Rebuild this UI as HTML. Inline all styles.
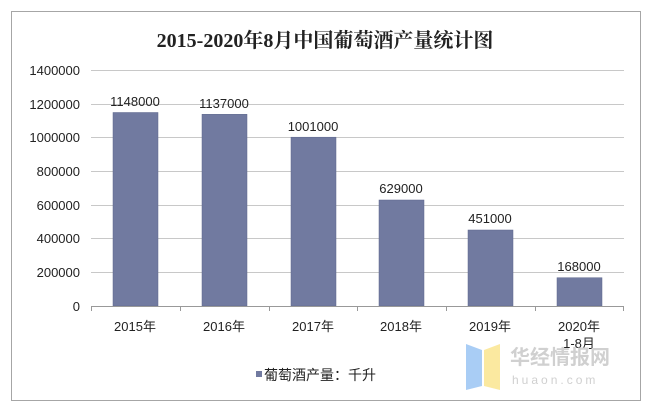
<!DOCTYPE html>
<html><head><meta charset="utf-8"><style>
body{margin:0;background:#fff;}
</style></head><body>
<svg width="650" height="411" xmlns="http://www.w3.org/2000/svg" font-family="'Liberation Sans','Noto Sans CJK SC',sans-serif">
<rect x="0" y="0" width="650" height="411" fill="#fff"/>
<rect x="11.5" y="11.5" width="629" height="389" fill="#fff" stroke="#a6a6a6"/>
<text x="325" y="47" text-anchor="middle" font-size="20" font-weight="bold" font-family="'Liberation Serif','Noto Serif CJK SC',serif" fill="#222">2015-2020年8月中国葡萄酒产量统计图</text>
<g stroke="#c8c8c8" stroke-width="1">
<line x1="91" x2="624" y1="70.5" y2="70.5"/>
<line x1="91" x2="624" y1="104.5" y2="104.5"/>
<line x1="91" x2="624" y1="137.5" y2="137.5"/>
<line x1="91" x2="624" y1="171.5" y2="171.5"/>
<line x1="91" x2="624" y1="205.5" y2="205.5"/>
<line x1="91" x2="624" y1="238.5" y2="238.5"/>
<line x1="91" x2="624" y1="272.5" y2="272.5"/>
</g>
<g font-size="13" fill="#222" text-anchor="end">
<text x="80" y="75">1400000</text>
<text x="80" y="109">1200000</text>
<text x="80" y="142">1000000</text>
<text x="80" y="176">800000</text>
<text x="80" y="210">600000</text>
<text x="80" y="243">400000</text>
<text x="80" y="277">200000</text>
<text x="80" y="311">0</text>
</g>
<g fill="#717aa0" stroke="#5d668c" stroke-width="0.5">
<rect x="113" y="112.5" width="45" height="193.5"/>
<rect x="202" y="114.3" width="45" height="191.7"/>
<rect x="291" y="137.2" width="45" height="168.8"/>
<rect x="379" y="200" width="45" height="106"/>
<rect x="468" y="230" width="45" height="76"/>
<rect x="557" y="277.7" width="45" height="28.3"/>
</g>
<g stroke="#999" stroke-width="1">
<line x1="91" x2="624" y1="306.5" y2="306.5"/>
<line x1="91.5" x2="91.5" y1="306" y2="311"/>
<line x1="180.5" x2="180.5" y1="306" y2="311"/>
<line x1="269.5" x2="269.5" y1="306" y2="311"/>
<line x1="357.5" x2="357.5" y1="306" y2="311"/>
<line x1="446.5" x2="446.5" y1="306" y2="311"/>
<line x1="535.5" x2="535.5" y1="306" y2="311"/>
<line x1="623.5" x2="623.5" y1="306" y2="311"/>
</g>
<g font-size="13" fill="#222" text-anchor="middle">
<text x="135" y="106">1148000</text>
<text x="224" y="108">1137000</text>
<text x="313" y="131">1001000</text>
<text x="401" y="193">629000</text>
<text x="490" y="223">451000</text>
<text x="579" y="271">168000</text>
<text x="135" y="331">2015年</text>
<text x="224" y="331">2016年</text>
<text x="313" y="331">2017年</text>
<text x="401" y="331">2018年</text>
<text x="490" y="331">2019年</text>
<text x="579" y="331">2020年</text>
<text x="579" y="348">1-8月</text>
</g>
<polygon points="466,344 482,350 482,386 466,390" fill="#a9cdf5"/>
<polygon points="484,350 500,344 500,390 484,386" fill="#fbe9a0"/>
<text x="510" y="364" font-size="20" font-weight="bold" fill="#d0d0d0">华经情报网</text>
<text x="512" y="384" font-size="12" fill="#d0d0d0" letter-spacing="3">huaon.com</text>
<rect x="256" y="371" width="6" height="6" fill="#717aa0"/>
<text x="264" y="380" font-size="14" fill="#222">葡萄酒产量：千升</text>
</svg>
</body></html>
